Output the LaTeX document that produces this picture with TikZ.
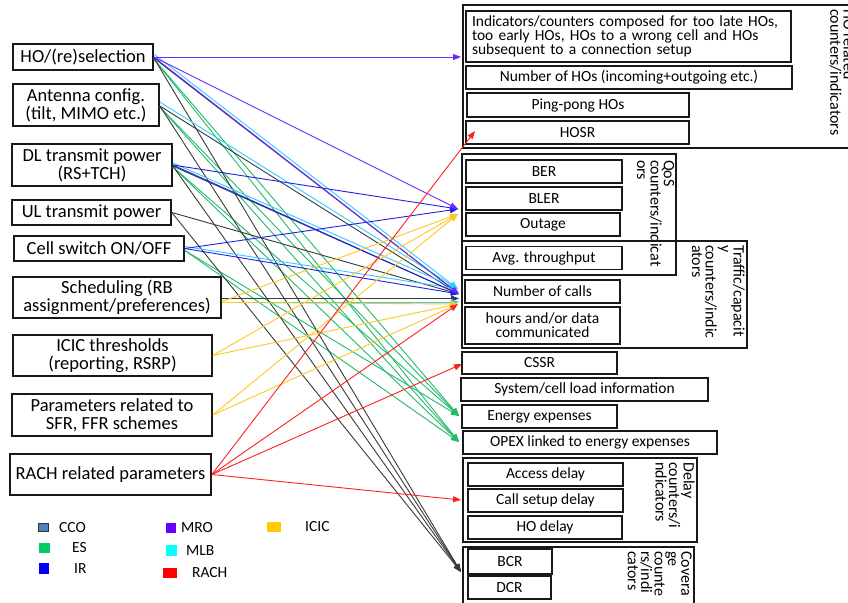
\documentclass[tikz,border=0pt]{standalone}
\usepackage{fontspec}
\setmainfont{Carlito}
\usetikzlibrary{arrows.meta}

% line colours of the SON use cases
\definecolor{ccoline}{HTML}{3A3A3A}
\definecolor{ccofill}{HTML}{4F81BD}
\definecolor{esline}{HTML}{22BB6A}
\definecolor{esfill}{HTML}{00CC66}
\definecolor{irline}{HTML}{2020E8}
\definecolor{irfill}{HTML}{0000FF}
\definecolor{mroline}{HTML}{6A2BFF}
\definecolor{mrofill}{HTML}{6600FF}
\definecolor{mlbline}{HTML}{33CCFF}
\definecolor{mlbfill}{HTML}{00FFFF}
\definecolor{rachline}{HTML}{FF2020}
\definecolor{rachfill}{HTML}{FF0000}
\definecolor{icicline}{HTML}{FFC820}
\definecolor{icicfill}{HTML}{FFCC00}

\begin{document}
\begin{tikzpicture}[x=1pt,y=-1pt,
  lbox/.style={draw=black!90, line width=1.7pt, inner sep=0pt, align=center,
    font=\fontsize{18.5}{18}\selectfont},
  rbox/.style={draw=black!90, line width=1.7pt, inner sep=0pt, align=center,
    font=\fontsize{15.5}{14}\selectfont},
  grp/.style={draw=black!90, line width=1.5pt},
  ttl/.style={rotate=-90, anchor=north west, inner sep=0pt, align=left,
    font=\fontsize{16}{13.4}\selectfont},
  conn/.style={line width=0.9pt, -{Triangle[length=8pt,width=6pt]}},
  swatch/.style={inner sep=0pt, draw=none},
  ltxt/.style={anchor=west, inner sep=0pt, font=\fontsize{15.5}{16}\selectfont}
]
\useasboundingbox (0,0) rectangle (848,602);
\clip (0,0) rectangle (848,602);
\fill[white] (0,0) rectangle (848,602);

% ---------- parameters (left column) ----------
\node[lbox, minimum width=140, minimum height=26] (ho)    at (83,57)      {HO/(re)selection};
\node[lbox, minimum width=146, minimum height=42] (ant)   at (86,105)     {Antenna config.\\(tilt, MIMO etc.)};
\node[lbox, minimum width=160, minimum height=42] (dl)    at (92,165)     {DL transmit power\\(RS+TCH)};
\node[lbox, minimum width=159, minimum height=25] (ul)    at (91.5,212.5) {UL transmit power};
\node[lbox, minimum width=170, minimum height=25] (cell)  at (99,248.5)   {Cell switch ON/OFF};
\node[lbox, minimum width=208, minimum height=41] (sched) at (117,297.5)  {Scheduling (RB\\assignment/preferences)};
\node[lbox, minimum width=199, minimum height=41] (icic)  at (112.5,355.5){ICIC thresholds\\(reporting, RSRP)};
\node[lbox, minimum width=200, minimum height=42] (sfr)   at (112,415)    {Parameters related to\\SFR, FFR schemes};
\node[lbox, minimum width=201, minimum height=41] (rach)  at (110.5,474.5){RACH related parameters};

% ---------- counters / indicators (right column) ----------
% HO related group
\draw[grp] (463,5) rectangle (870,148);
\node[rbox, minimum height=51, text width=313, inner xsep=6pt, align=left] (ind) at (628.5,36.5)
  {Indicators/counters composed for too late HOs,\\too early HOs, HOs to a wrong cell and HOs\\subsequent to a connection setup};
\node[rbox, minimum width=326, minimum height=23] (nho)  at (629,77.5)   {Number of HOs (incoming+outgoing etc.)};
\node[rbox, minimum width=222, minimum height=24] (pp)   at (578,105)    {Ping-pong HOs};
\node[rbox, minimum width=223, minimum height=23] (hosr) at (577.5,132.5){HOSR};
\node[ttl] (hottl) at (855,9) {HO related\\counters/indicators};

% QoS group
\draw[grp] (462,154) rectangle (676,275);
\node[rbox, minimum width=156, minimum height=23] (ber)    at (544,171.5) {BER};
\node[rbox, minimum width=156, minimum height=23] (bler)   at (544,198.5) {BLER};
\node[rbox, minimum width=154, minimum height=23] (outage) at (543,224.5) {Outage};
\node[ttl] (qosttl) at (674.5,160) {QoS\\counters/indicat\\ors};

% traffic / capacity group
\draw[grp] (462,241) rectangle (747,348);
\node[rbox, minimum width=156, minimum height=23] (avg)   at (544,258)    {Avg. throughput};
\node[rbox, minimum width=155, minimum height=23] (calls) at (542.5,291.5) {Number of calls};
\node[rbox, minimum width=155, minimum height=37] (hours) at (542.5,325.5) {hours and/or data\\communicated};
\node[ttl] (trttl) at (745,245) {Traffic/capacit\\y\\counters/indic\\ators};

% single indicators
\node[rbox, minimum width=155, minimum height=22] (cssr)   at (539.5,363)   {CSSR};
\node[rbox, minimum width=247, minimum height=23] (load)   at (584.5,389.5) {System/cell load information};
\node[rbox, minimum width=155, minimum height=23] (energy) at (539.5,416.5) {Energy expenses};
\node[rbox, minimum width=254, minimum height=23] (opex)   at (590,442.5)   {OPEX linked to energy expenses};

% delay group
\draw[grp] (463,458) rectangle (697,542);
\node[rbox, minimum width=155, minimum height=23] (access) at (545.5,474.5) {Access delay};
\node[rbox, minimum width=155, minimum height=23] (csd)    at (545.5,500.5) {Call setup delay};
\node[rbox, minimum width=154, minimum height=23] (hod)    at (545,527.5)   {HO delay};
\node[ttl] (delttl) at (695,462) {Delay\\counters/i\\ndicators};

% coverage group
\draw[grp] (463,547) rectangle (694,620);
\node[rbox, minimum width=84, minimum height=25] (bcr) at (510,561.5)   {BCR};
\node[rbox, minimum width=83, minimum height=23] (dcr) at (509.5,587.5) {DCR};
\node[ttl] (covttl) at (692,551) {Covera\\ge\\counte\\rs/indi\\cators};

% ---------- arrow targets ----------
\coordinate (tA)  at (461,57);
\coordinate (tB)  at (475,131);
\coordinate (tC)  at (458,209);
\coordinate (tCy) at (458,214);
\coordinate (tDc) at (458,289);
\coordinate (tDb) at (459,294);
\coordinate (tDk) at (459,298.5);
\coordinate (tDs) at (459,302);
\coordinate (tDy) at (458,304);
\coordinate (tE)  at (462,364);
\coordinate (tF)  at (459,416);
\coordinate (tG)  at (459,442);
\coordinate (tH)  at (461,500);
\coordinate (tI)  at (461,572);

% ES
\begin{scope}[conn, esline]
  \draw ([yshift=-2pt]ho.east)   -- (tF);
  \draw ([yshift=-2pt]ho.east)   -- (tG);
  \draw ([yshift=-2pt]ant.east)  -- (tF);
  \draw ([yshift=-2pt]ant.east)  -- (tG);
  \draw ([yshift=-2pt]dl.east)   -- (tF);
  \draw ([yshift=-2pt]dl.east)   -- (tG);
  \draw ([yshift=-2pt]cell.east) -- (tF);
  \draw ([yshift=-2pt]cell.east) -- (tG);
\end{scope}

% CCO
\begin{scope}[conn, ccoline]
  \draw ([yshift=-1pt]ho.east)  -- (tDb);
  \draw ([yshift=-1pt]ho.east)  -- (tI);
  \draw ([yshift=-1pt]ant.east) -- (tDb);
  \draw ([yshift=-1pt]ant.east) -- (tI);
  \draw ([yshift=-1pt]dl.east)  -- (tDb);
  \draw ([yshift=-1pt]dl.east)  -- (tI);
  \draw (ul.east)               -- (tDb);
  \draw (ul.east)               -- (tI);
  \draw ([yshift=-1pt]sched.east) -- (tDk);
\end{scope}

% MLB
\begin{scope}[conn, mlbline]
  \draw ([yshift=3pt]ho.east)    -- (tDc);
  \draw ([yshift=3pt]ant.east)   -- (tDc);
  \draw ([yshift=2pt]dl.east)    -- (tDc);
  \draw ([yshift=2pt]cell.east)  -- (tDc);
  \draw ([yshift=-4.5pt]sched.east) -- (tDs);
\end{scope}

% IR
\begin{scope}[conn, irline]
  \draw (dl.east)   -- (tC);
  \draw (dl.east)   -- (tDb);
  \draw (cell.east) -- (tC);
  \draw (cell.east) -- (tDb);
\end{scope}

% MRO
\begin{scope}[conn, mroline]
  \draw (ho.east) -- (tA);
  \draw (ho.east) -- (tC);
  \draw (ho.east) -- (tDb);
\end{scope}

% ICIC
\begin{scope}[conn, icicline]
  \draw ([yshift=-4pt]sched.east) -- (tCy);
  \draw ([yshift=-5pt]sched.east) -- (tDy);
  \draw (icic.east) -- (tCy);
  \draw (icic.east) -- (tDy);
  \draw (sfr.east)  -- (tCy);
  \draw (sfr.east)  -- (tDy);
\end{scope}

% RACH
\begin{scope}[conn, rachline]
  \draw (rach.east) -- (tB);
  \draw (rach.east) -- (tDy);
  \draw (rach.east) -- (tE);
  \draw (rach.east) -- (tH);
\end{scope}

% ---------- legend ----------
\node[swatch, fill=ccofill, draw=black!80, line width=0.8pt, minimum width=10, minimum height=8] (kcco) at (43.5,527.5) {};
\node[ltxt] (lcco) at (59,527.5) {CCO};
\node[swatch, fill=esfill, minimum width=11, minimum height=10] (kes) at (44.5,548) {};
\node[ltxt] (les) at (72,548) {ES};
\node[swatch, fill=irfill, minimum width=10, minimum height=11] (kir) at (44,568.5) {};
\node[ltxt] (lir) at (74,568.5) {IR};
\node[swatch, fill=mrofill, minimum width=10, minimum height=10] (kmro) at (171,528) {};
\node[ltxt] (lmro) at (181,528) {MRO};
\node[swatch, fill=mlbfill, minimum width=11, minimum height=11] (kmlb) at (171.5,550.5) {};
\node[ltxt] (lmlb) at (186,550.5) {MLB};
\node[swatch, fill=rachfill, minimum width=14, minimum height=10] (krach) at (170,573) {};
\node[ltxt] (lrach) at (192,573) {RACH};
\node[swatch, fill=icicfill, minimum width=14, minimum height=10] (kicic) at (274,527) {};
\node[ltxt] (licic) at (305,527) {ICIC};
\end{tikzpicture}
\end{document}
